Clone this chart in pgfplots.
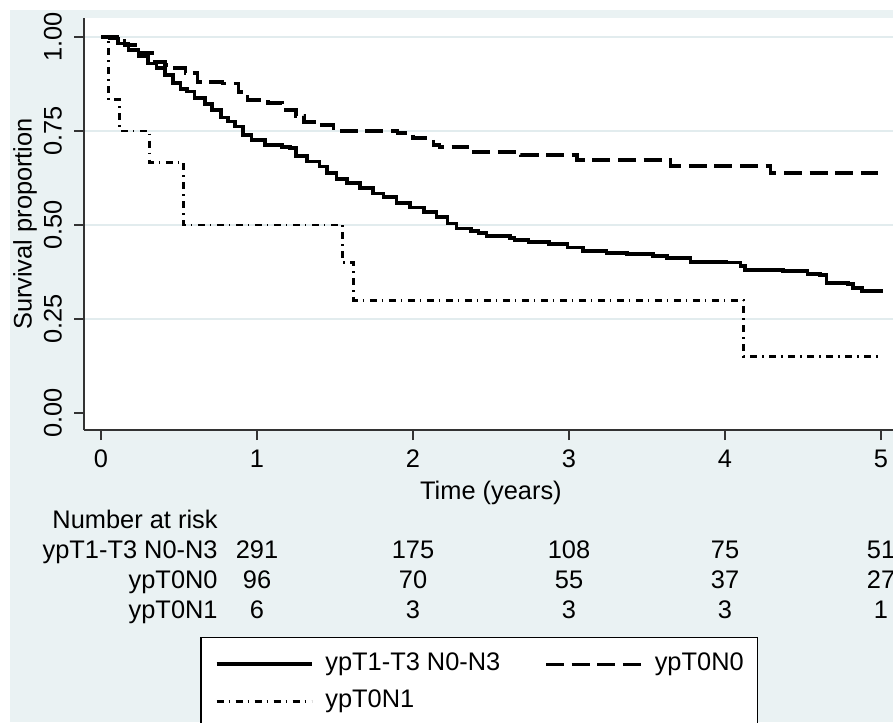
\documentclass[border=0pt]{standalone}
\usepackage{fontspec}
\setmainfont{Liberation Sans}
\usepackage{pgfplots}
\pgfplotsset{compat=1.18}
\definecolor{stbg}{HTML}{EAF2F3}
\definecolor{stgrid}{HTML}{E2ECEE}
\definecolor{staxis}{HTML}{333333}
\newcommand{\fsz}{\fontsize{12.7}{15.2}\selectfont}

\begin{document}
\begin{tikzpicture}
\fill[white] (0,0) rectangle (446.5pt,361pt);
\fill[stbg] (5pt,0) rectangle (446.5pt,356pt);
\begin{scope}
\clip (0,0) rectangle (446.5pt,361pt);
\begin{axis}[
  at={(42pt,146pt)}, anchor=south west,
  scale only axis, width=404.5pt, height=206pt,
  xmin=-0.109, xmax=5.077, ymin=-0.0452, ymax=1.0505,
  axis x line*=bottom, axis y line*=left,
  axis line style={staxis, line width=1pt, -},
  axis background/.style={fill=white},
  xtick={0,1,2,3,4,5},
  ytick={0.25,0.5,0.75,1},
  yticklabels={0.25,0.50,0.75,1.00},
  extra y ticks={0}, extra y tick labels={0.00},
  extra y tick style={grid=none},
  ymajorgrids, grid style={stgrid, line width=1pt},
  tick align=outside, major tick length=5pt,
  tick style={staxis, line width=0.8pt},
  /pgf/number format/assume math mode=true,
  ticklabel style={font=\fsz},
  xticklabel style={anchor=base, inner sep=0pt, yshift=-13.5pt},
  yticklabel style={rotate=90, anchor=base, inner sep=0pt},
  yticklabel shift=6.2pt,
  xlabel={Time (years)},
  xlabel style={font=\fsz, at={(axis description cs:0.503,-0.1675)}, anchor=base, inner sep=0pt},
  ylabel={Survival proportion},
  ylabel style={font=\fsz, at={(axis description cs:-0.0648,0.5)}, anchor=base, inner sep=0pt},
  legend columns=2,
  legend cell align=left,
  legend image code/.code={\draw[#1] (0pt,0pt) -- (47.5pt,0pt);},
  legend style={font=\fsz, at={(0.1434,-0.5024)}, anchor=north west,
    draw=black, line width=0.75pt, fill=white, inner xsep=7pt, inner ysep=4pt,
    nodes={inner xsep=0pt, inner ysep=3pt, text height=9.5pt, text depth=3pt, anchor=west},
    /tikz/every odd column/.append style={column sep=6pt},
    /tikz/every even column/.append style={column sep=22pt}},
]
% ypT1-T3 N0-N3
\addplot[const plot, black, line width=1.8pt] coordinates {
(0,1.0) (0.058,0.996) (0.11,0.983) (0.175,0.965) (0.24,0.948) (0.30,0.93)
(0.357,0.917) (0.41,0.899) (0.46,0.877) (0.51,0.861) (0.55,0.855) (0.60,0.837)
(0.667,0.822) (0.71,0.806) (0.77,0.786) (0.816,0.775) (0.86,0.762) (0.91,0.739)
(0.966,0.726) (1.05,0.713) (1.16,0.708) (1.21,0.704) (1.25,0.683) (1.32,0.669)
(1.40,0.656) (1.45,0.638) (1.51,0.622) (1.575,0.611) (1.66,0.598) (1.745,0.584)
(1.81,0.574) (1.895,0.559) (1.98,0.547) (2.07,0.535) (2.15,0.522) (2.22,0.504)
(2.28,0.491) (2.37,0.484) (2.42,0.479) (2.47,0.471) (2.62,0.466) (2.65,0.46)
(2.74,0.455) (2.87,0.449) (2.99,0.440) (3.09,0.431) (3.24,0.426) (3.37,0.423)
(3.54,0.418) (3.63,0.412) (3.78,0.402) (4.01,0.400) (4.10,0.391) (4.13,0.380)
(4.37,0.377) (4.53,0.370) (4.61,0.367) (4.65,0.346) (4.79,0.343) (4.82,0.332)
(4.88,0.325) (5.01,0.325)};
\addlegendentry{ypT1-T3 N0-N3}
% ypT0N0
\addplot[const plot, black, line width=1.7pt, dash pattern=on 9pt off 3.8pt] coordinates {
(0,1.0) (0.15,0.979) (0.24,0.957) (0.33,0.934) (0.41,0.925) (0.47,0.917)
(0.54,0.904) (0.62,0.88) (0.78,0.877) (0.88,0.854) (0.94,0.832) (1.07,0.824)
(1.16,0.806) (1.25,0.79) (1.30,0.774) (1.40,0.766) (1.49,0.75) (1.90,0.745)
(2.0,0.731) (2.13,0.713) (2.17,0.707) (2.35,0.694) (2.69,0.686) (3.05,0.673)
(3.65,0.657) (4.29,0.638) (4.98,0.638)};
\addlegendentry{ypT0N0}
% ypT0N1
\addplot[const plot, black, line width=1.4pt, dash pattern=on 3.5pt off 2.5pt on 0.7pt off 2.8pt] coordinates {
(0,1.0) (0.05,0.833) (0.12,0.75) (0.31,0.667) (0.53,0.5) (1.55,0.4)
(1.62,0.3) (4.12,0.15) (4.99,0.15)};
\addlegendentry{ypT0N1}
\end{axis}
\end{scope}
% number at risk
\begin{scope}[every node/.style={font=\fsz, inner sep=0pt}]
\node[anchor=base east] at (109pt,96.5pt) {Number at risk};
\node[anchor=base east] at (109pt,81.5pt) {ypT1-T3 N0-N3};
\node[anchor=base east] at (109pt,66.5pt) {ypT0N0};
\node[anchor=base east] at (109pt,51.5pt) {ypT0N1};
\node[anchor=base] at (128.5pt,81.5pt) {291};
\node[anchor=base] at (206.5pt,81.5pt) {175};
\node[anchor=base] at (284.5pt,81.5pt) {108};
\node[anchor=base] at (362.5pt,81.5pt) {75};
\node[anchor=base] at (440.5pt,81.5pt) {51};
\node[anchor=base] at (128.5pt,66.5pt) {96};
\node[anchor=base] at (206.5pt,66.5pt) {70};
\node[anchor=base] at (284.5pt,66.5pt) {55};
\node[anchor=base] at (362.5pt,66.5pt) {37};
\node[anchor=base] at (440.5pt,66.5pt) {27};
\node[anchor=base] at (128.5pt,51.5pt) {6};
\node[anchor=base] at (206.5pt,51.5pt) {3};
\node[anchor=base] at (284.5pt,51.5pt) {3};
\node[anchor=base] at (362.5pt,51.5pt) {3};
\node[anchor=base] at (440.5pt,51.5pt) {1};
\end{scope}
\pgfresetboundingbox
\useasboundingbox (0,0) rectangle (446.5pt,361pt);
\end{tikzpicture}
\end{document}
